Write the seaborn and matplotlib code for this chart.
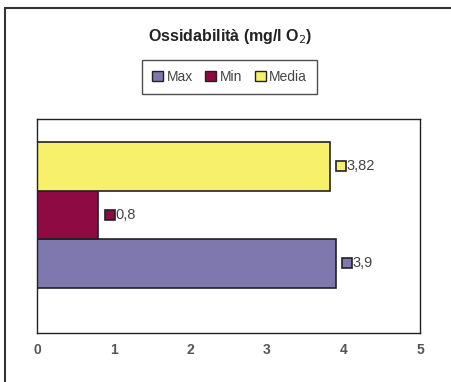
import matplotlib
matplotlib.use("Agg")
import matplotlib.pyplot as plt
import seaborn as sns
import pandas as pd
from matplotlib.patches import Patch
from matplotlib.lines import Line2D

series = ["Max", "Min", "Media"]
values = [3.9, 0.8, 3.82]
labels = ["3,9", "0,8", "3,82"]
colors = {"Max": "#7f78ae", "Min": "#8e0a42", "Media": "#f7f06a"}
xticks = [0, 1, 2, 3, 4, 5]

sns.set_theme(style="white")
plt.rcParams['font.family'] = ['Liberation Sans', 'DejaVu Sans']

W, H = 451, 382
fig = plt.figure(figsize=(W / 100, H / 100), dpi=100)
left, right, top, bottom = 37, 420, 119, 333
ax = fig.add_axes([left / W, 1 - bottom / H, (right - left) / W, (bottom - top) / H])

df = pd.DataFrame({"serie": series, "valore": values})
order = ["Media", "Min", "Max"]
sns.barplot(data=df, y="serie", x="valore", hue="serie", order=order, hue_order=series,
            palette=colors, saturation=1, width=1.0, edgecolor="#222222", linewidth=1.2,
            legend=False, ax=ax, dodge=False)

ax.set_xlim(0, 5)
ax.set_ylim(3.4375, -0.979)
ax.set_xticks(xticks)
ax.set_xticklabels([str(t) for t in xticks], fontsize=10, color="#555555", fontweight="bold")
ax.set_yticks([])
ax.set_xlabel("")
ax.set_ylabel("")
ax.tick_params(axis="x", length=0, pad=7)
for s in ax.spines.values():
    s.set_color("#222222")
    s.set_linewidth(1.0)

for name, v, lab in zip(series, values, labels):
    yi = order.index(name)
    ax.plot(v + 0.15, yi, marker="s", markersize=7, markerfacecolor=colors[name],
            markeredgecolor="#222222", markeredgewidth=1.2, clip_on=False)
    ax.text(v + 0.22, yi, lab, fontsize=10.5, color="#444444", va="center", ha="left")

fig.text(230 / W, 1 - 37 / H, "Ossidabilità (mg/l O$_2$)", ha="center", va="center",
         fontsize=11.5, fontweight="bold", color="#222222")

handles = [Patch(facecolor=colors[s], edgecolor="#222222", label=s) for s in series]
leg = fig.legend(handles=handles, loc="center", bbox_to_anchor=(229.5 / W, 1 - 77 / H),
                 ncol=3, fontsize=10, frameon=True, fancybox=False, handlelength=0.8,
                 handleheight=0.8, handletextpad=0.25, columnspacing=0.9,
                 borderpad=0.7, borderaxespad=0)
leg.get_frame().set_edgecolor("#222222")
leg.get_frame().set_linewidth(1.0)
for t in leg.get_texts():
    t.set_color("#444444")

fig.add_artist(Line2D([5 / W, 5 / W], [0, 1 - 8 / H], color="#333333", linewidth=1.5))
fig.add_artist(Line2D([5 / W, 1], [1 - 8 / H, 1 - 8 / H], color="#333333", linewidth=1.5))

fig.savefig("out.png", dpi=100)
